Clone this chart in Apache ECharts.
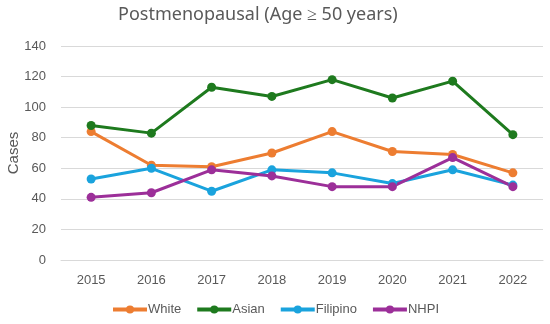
<!DOCTYPE html>
<html><head><meta charset="utf-8">
<script src="https://cdn.jsdelivr.net/npm/echarts@6/dist/echarts.min.js"></script>
<style>html,body{margin:0;padding:0;background:#fff}#c{width:550px;height:324px}</style>
</head><body><div id="c"></div>
<script>
const years = ['2015','2016','2017','2018','2019','2020','2021','2022'];
const white = [84, 62, 61, 70, 84, 71, 69, 57];
const asian = [88, 83, 113, 107, 118, 106, 117, 82];
const filipino = [53, 60, 45, 59, 57, 50, 59, 49];
const nhpi = [41, 44, 59, 55, 48, 48, 67, 48];
const names = ['White','Asian','Filipino','NHPI'];
const colors = ['#ED7D31','#1E7A1E','#1AA3DD','#9C2F99'];
const data = [white, asian, filipino, nhpi];
const chart = echarts.init(document.getElementById('c'));
chart.setOption({
  animation:false,
  title:{text:'Postmenopausal (Age \u2265 50 years)', left:113, top:1,
    textStyle:{fontFamily:'Noto Sans', fontWeight:'normal', fontSize:18, color:'#595959'}},
  color: colors,
  legend:{bottom:3, left:'center', itemWidth:34, itemHeight:10, itemGap:14,
    lineStyle:{width:4},
    textStyle:{fontFamily:'Liberation Sans', fontSize:13, color:'#595959', padding:[0,0,0,-4]},
    data: names},
  grid:{left:61, right:7, top:46, bottom:64, containLabel:false, outerBoundsMode:'none'},
  xAxis:{type:'category', data:years, boundaryGap:true,
    axisLine:{lineStyle:{color:'#d9d9d9'}}, axisTick:{show:false},
    axisLabel:{fontFamily:'Liberation Sans', fontSize:13, color:'#595959', margin:14}},
  yAxis:{type:'value', min:0, max:140, interval:20, name:'Cases', nameLocation:'middle', nameGap:40,
    nameMoveOverlap:false,
    nameTextStyle:{fontFamily:'Liberation Sans', fontSize:15, color:'#595959'},
    axisLine:{show:false}, axisTick:{show:false},
    splitLine:{lineStyle:{color:'#d9d9d9'}},
    axisLabel:{fontFamily:'Liberation Sans', fontSize:13, color:'#595959', margin:15}},
  series: names.map((n,i)=>({name:n, type:'line', data:data[i], symbol:'circle', symbolSize:9,
    lineStyle:{width:3}, itemStyle:{color:colors[i]}}))
});
</script></body></html>
